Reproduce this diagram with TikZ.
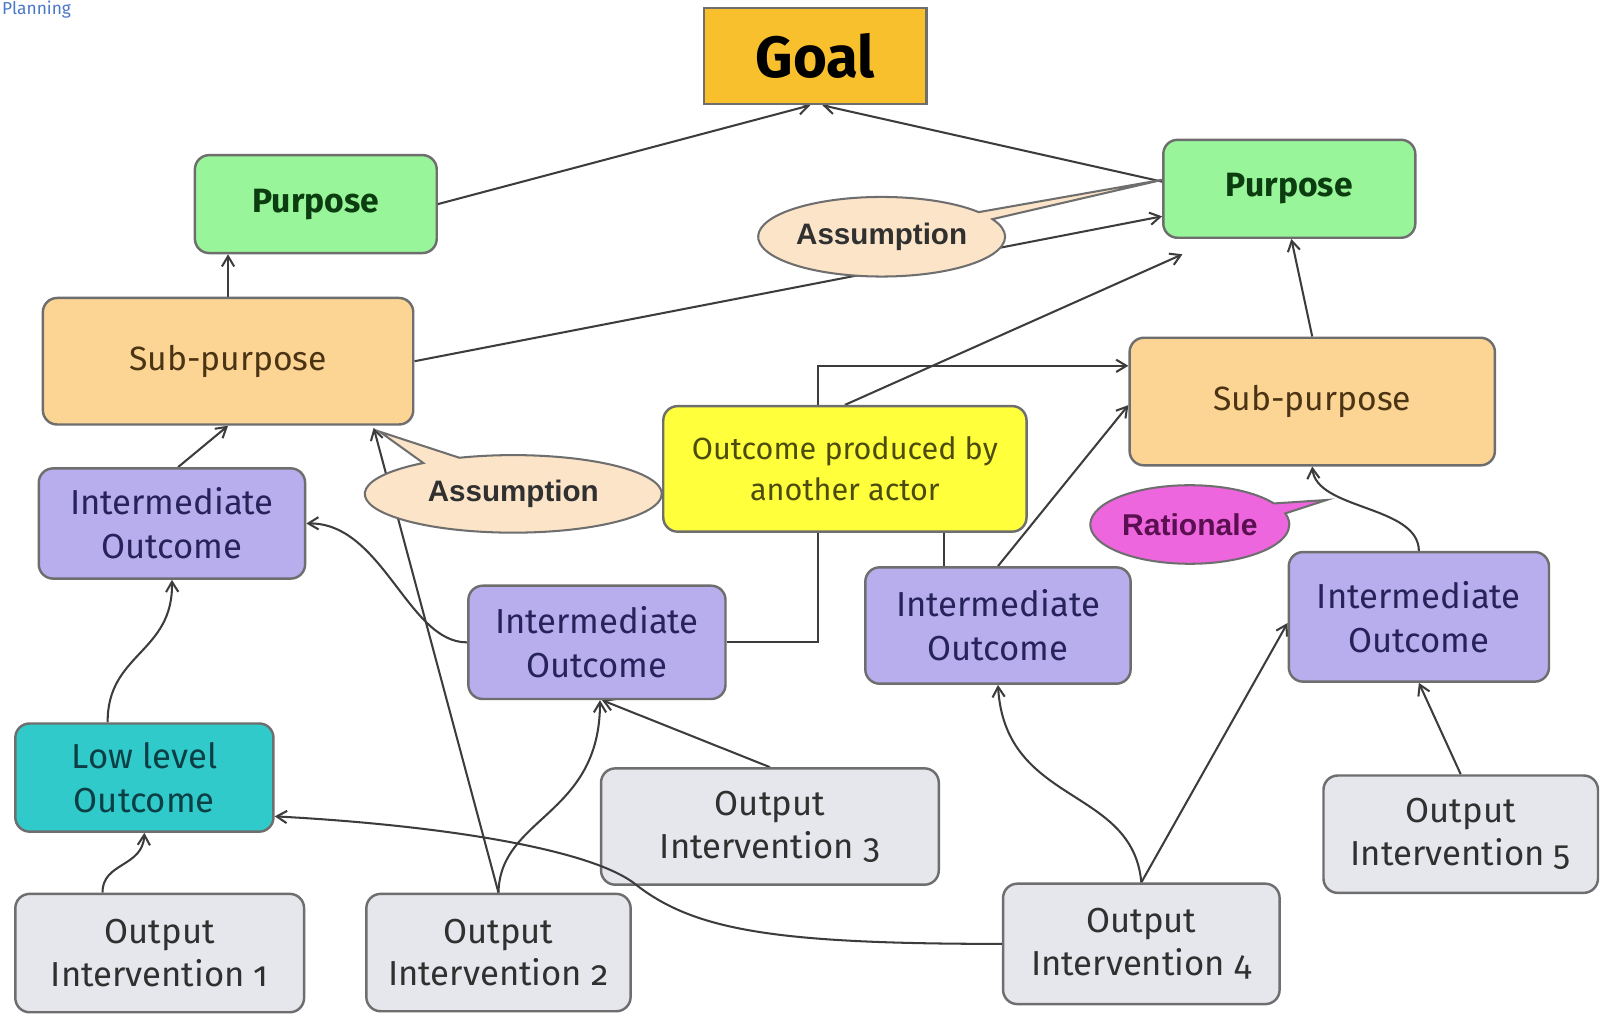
\documentclass[tikz,border=0pt]{standalone}
\usepackage{fontspec}
\setmainfont{Fira Sans}[Numbers=OldStyle]
\newfontfamily\callfont{Liberation Sans}
\usetikzlibrary{arrows.meta,shapes.geometric,shapes.callouts,calc}

\pgfdeclarelayer{background}
\pgfsetlayers{background,main}

\definecolor{boxline}{HTML}{6E6E6E}
\definecolor{linkc}{HTML}{3C3C3C}
\definecolor{goalfill}{HTML}{F9C02E}
\definecolor{purfill}{HTML}{98F59A}
\definecolor{subfill}{HTML}{FCD595}
\definecolor{iofill}{HTML}{B8AEEE}
\definecolor{othfill}{HTML}{FFFF3C}
\definecolor{llofill}{HTML}{30CACA}
\definecolor{oifill}{HTML}{E5E7EC}
\definecolor{asmfill}{HTML}{FBE4C8}
\definecolor{ratfill}{HTML}{EE66DD}
\definecolor{purtext}{HTML}{0B3D10}
\definecolor{subtext}{HTML}{4B3413}
\definecolor{iotext}{HTML}{27235A}
\definecolor{othtext}{HTML}{4C4C10}
\definecolor{llotext}{HTML}{0C3F45}
\definecolor{oitext}{HTML}{303030}
\definecolor{rattext}{HTML}{5A1050}
\definecolor{planblue}{HTML}{4A78C8}

\tikzset{
  box/.style={draw=boxline, line width=2.4pt, rounded corners=14pt,
    align=center, inner sep=0pt},
  goalbox/.style={draw=boxline, line width=2.4pt, fill=goalfill, inner sep=0pt,
    text=black, font=\fontsize{57}{60}\selectfont\bfseries},
  purbox/.style={box, fill=purfill, text=purtext, font=\fontsize{33}{40}\selectfont\bfseries},
  subbox/.style={box, fill=subfill, text=subtext, font=\fontsize{33}{40}\selectfont},
  iobox/.style={box, fill=iofill, text=iotext, font=\fontsize{34}{43}\selectfont},
  othbox/.style={box, fill=othfill, text=othtext, font=\fontsize{30}{40}\selectfont},
  llobox/.style={box, fill=llofill, text=llotext, font=\fontsize{34}{43}\selectfont},
  oibox/.style={box, fill=oifill, text=oitext, font=\fontsize{34}{42}\selectfont},
  asmcall/.style={ellipse callout, draw=boxline, line width=2pt, fill=asmfill,
    text=oitext, inner sep=0pt, font=\callfont\fontsize{29}{30}\selectfont\bfseries},
  ratcall/.style={ellipse callout, draw=boxline, line width=2pt, fill=ratfill,
    text=rattext, inner sep=0pt, font=\callfont\fontsize{29.5}{30}\selectfont\bfseries},
  link/.style={draw=linkc, line width=2pt, -{Straight Barb[length=10pt,width=12pt]}},
  plainlink/.style={draw=linkc, line width=2pt},
}

\begin{document}
\begin{tikzpicture}[x=1pt, y=-1pt]
\useasboundingbox (0,0) rectangle (1568,996);

% title at the top-left corner
\node[anchor=base west, inner sep=0pt, text=planblue, font=\fontsize{17}{17}\selectfont] (plan) at (2,14) {Planning};

% goal and purposes
\node[goalbox, minimum width=218pt, minimum height=94pt] (goal) at (799,55) {Goal};
\node[purbox, minimum width=237pt, minimum height=96pt] (purL) at (309.5,200) {Purpose};
\node[purbox, minimum width=247pt, minimum height=96pt] (purR) at (1263.5,185) {Purpose};

% sub-purposes
\node[subbox, minimum width=363pt, minimum height=124pt] (subL) at (223.5,354) {Sub-purpose};
\node[subbox, minimum width=358pt, minimum height=125pt] (subR) at (1286,393.5) {Sub-purpose};

% outcomes
\node[iobox, minimum width=261pt, minimum height=108pt] (io1) at (168.5,513) {Intermediate\\Outcome};
\node[iobox, minimum width=252pt, minimum height=111pt] (io2) at (585,629.5) {Intermediate\\Outcome};
\node[iobox, minimum width=260pt, minimum height=114pt] (io3) at (978,613) {Intermediate\\Outcome};
\node[iobox, minimum width=255pt, minimum height=127pt] (io4) at (1390.5,604.5) {Intermediate\\Outcome};
\node[othbox, minimum width=356pt, minimum height=123pt] (oth) at (828,459.5) {Outcome produced by\\another actor};
\node[llobox, minimum width=253pt, minimum height=106pt] (llo) at (141.5,762) {Low level\\Outcome};

% outputs
\node[oibox, minimum width=283pt, minimum height=116pt] (oi1) at (156.5,934) {Output\\Intervention 1};
\node[oibox, minimum width=259pt, minimum height=115pt] (oi2) at (488.5,933.5) {Output\\Intervention 2};
\node[oibox, minimum width=331pt, minimum height=114pt] (oi3) at (754.5,810) {Output\\Intervention 3};
\node[oibox, minimum width=271pt, minimum height=118pt] (oi4) at (1118.5,925) {Output\\Intervention 4};
\node[oibox, minimum width=269pt, minimum height=115pt] (oi5) at (1431.5,817.5) {Output\\Intervention 5};

% callouts
\node[asmcall, minimum width=242pt, minimum height=78pt,
      callout absolute pointer={(1140,176)}, callout pointer arc=12] (asmA) at (864,232) {Assumption};
\node[asmcall, minimum width=291pt, minimum height=76pt,
      callout absolute pointer={(372,423)}, callout pointer arc=16] (asmB) at (503,484) {Assumption};
\node[ratcall, minimum width=195pt, minimum height=77pt,
      callout absolute pointer={(1300,490)}, callout pointer arc=16] (rat) at (1166,514) {Rationale};

\begin{pgfonlayer}{background}
\fill[white] (0,0) rectangle (1568,996);
% links to the goal
\draw[link] (purL.east) -- ($(goal.south)+(-5,0)$);
\draw[link] ($(purR.west)+(0,-7)$) -- ($(goal.south)+(7,0)$);
% links to the purposes
\draw[link] (subL.north) -- (subL.north |- purL.south);
\draw[link] (subL.east) -- ($(purR.west)+(0,27)$);
\coordinate (purRin) at ($(purR.south west)+(20,15)$);
\draw[link] (oth.north) -- (purRin);
\draw[link] (subR.north) -- ($(purR.south)+(2,0)$);
% links to the sub-purposes
\draw[link] (io2.east) -- ++(89,0) |- ($(subR.west)+(0,-35)$);
\coordinate (io3k) at ($(io3.north west)+(78,0)$);
\draw[plainlink] (io3k) -- (io3k |- oth.south);
\draw[link] (io3.north) -- ($(subR.west)+(0,3.5)$);
\draw[link] (io4.north) .. controls (1390,495) and (1290,500) .. (subR.south);
\draw[link] ($(io1.north)+(6,0)$) -- (subL.south);
\draw[link] (oi2.north) -- ($(subL.south east)+(-40,2)$);
% links between outcomes
\draw[link] (io2.west) .. controls (400,630) and (375,512) .. (io1.east);
\draw[link] ($(llo.north)+(-36,0)$) .. controls (105,640) and (170,640) .. (io1.south);
% links from the outputs
\draw[link] ($(oi1.north)+(-56,0)$) .. controls (100,845) and (140,850) .. (llo.south);
\draw[link] (oi2.north) .. controls (490,800) and (588,800) .. ($(io2.south)+(3,0)$);
\draw[link] (oi3.north) -- ($(io2.south)+(5,0)$);
\draw[link] (oi4.north) .. controls (1110,770) and (985,790) .. (io3.south);
\draw[link] (oi4.north) -- ($(io4.west)+(0,6)$);
\draw[link] (oi5.north) -- (io4.south);
\end{pgfonlayer}

% long link from output 4 back to the low level outcome
\draw[link] (oi4.west) .. controls (760,925) and (680,912) .. (622,866)
  .. controls (575,830) and (420,808) .. ($(llo.east)+(0,38)$);
\end{tikzpicture}
\end{document}
